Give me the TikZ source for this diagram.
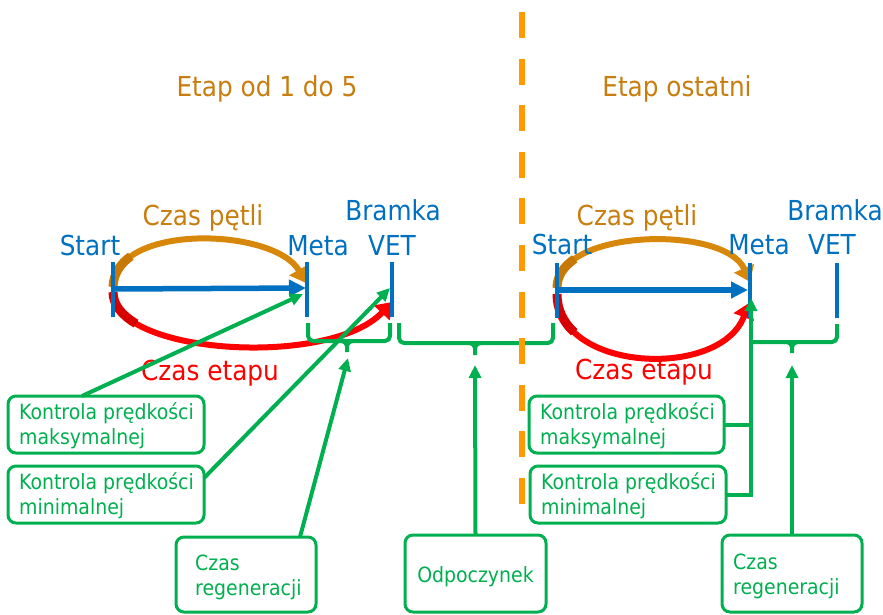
\documentclass[tikz,border=0pt]{standalone}
\usepackage{fontspec}
\setmainfont{DejaVu Sans Condensed}
\usetikzlibrary{arrows.meta}
\definecolor{cblue}{RGB}{0,112,192}
\definecolor{cgreen}{RGB}{0,176,80}
\definecolor{chead}{RGB}{200,125,15}
\definecolor{carc}{RGB}{215,135,10}
\definecolor{carcdark}{RGB}{200,120,5}
\definecolor{cdash}{RGB}{255,155,0}
\definecolor{cred}{RGB}{255,0,0}
\definecolor{creddark}{RGB}{215,0,0}
\begin{document}
\begin{tikzpicture}[x=1pt,y=-1pt,
  lbl/.style={font=\fontsize{27.5}{30}\selectfont, inner sep=0pt, anchor=base},
  box/.style={draw=cgreen, line width=3pt, rounded corners=8pt, fill=white, anchor=north west, inner sep=0pt, outer sep=0pt},
  btext/.style={text=cgreen, font=\fontsize{21}{25}\selectfont, align=left, inner sep=0pt, anchor=west},
  gline/.style={draw=cgreen, line width=4pt},
  garrow/.style={gline, -{Triangle[length=13pt,width=12pt]}},
  tickline/.style={draw=cblue, line width=4pt},
  bluearrow/.style={draw=cblue, line width=5.5pt, -{Triangle[length=17pt,width=16pt]}},
  bigarc/.style={line width=6pt, -{Triangle[length=15pt,width=21pt]}},
  arcstart/.style={line width=9pt},
  brace/.style={gline, rounded corners=5pt},
]
\useasboundingbox (0,0) rectangle (883,614);

% headings
\node[lbl, text=chead] (h1) at (267,96) {Etap od 1 do 5};
\node[lbl, text=chead] (h2) at (677,96) {Etap ostatni};

% ---- left part ----
\coordinate (startL) at (113,289);
\coordinate (metaL) at (306,288);
\coordinate (vetL) at (392,302);
\draw[carc, bigarc] (113,287) .. controls (115,222) and (275,228) .. (306,283);
\draw[carcdark, arcstart] (113,287) .. controls (113.4,274) and (120.1,263.8) .. (130.8,256.3);
\draw[cred, bigarc] (113,292) .. controls (113,355) and (330,368) .. (vetL);
\draw[creddark, arcstart] (113,292) .. controls (113,304.6) and (121.7,315.2) .. (136.1,323.6);
\draw[bluearrow] (startL) -- (metaL);
\draw[tickline] (113,262) -- (113,317);
\draw[tickline] (307,262) -- (307,317);
\draw[tickline] (392,262) -- (392,317);

\node[lbl, text=cblue] (sL) at (90,255) {Start};
\node[lbl, text=cblue] (mL) at (318,255) {Meta};
\node[lbl, text=cblue] (bL) at (393,220) {Bramka};
\node[lbl, text=cblue] (vL) at (392,255) {VET};
\node[lbl, text=chead] (cpL) at (203,225) {Czas pętli};
\node[lbl, text=cred] (ceL) at (210,380) {Czas etapu};

% ---- right part ----
\coordinate (startR) at (557,290);
\coordinate (metaR) at (748,290);
\draw[carc, bigarc] (557,288) .. controls (557,228) and (725,225) .. (750,282);
\draw[carcdark, arcstart] (557,288) .. controls (557,276) and (563.7,266.3) .. (574.7,258.9);
\draw[cred, bigarc] (557,294) .. controls (557,372) and (720,380) .. (749,303);
\draw[creddark, arcstart] (557,294) .. controls (557,309.6) and (563.5,322.4) .. (574.2,332.3);
\draw[bluearrow] (startR) -- (metaR);
\draw[tickline] (557,263) -- (557,318);
\draw[tickline] (750,263) -- (750,318);
\draw[tickline] (837,263) -- (837,318);

\node[lbl, text=cblue] (sR) at (562,254) {Start};
\node[lbl, text=cblue] (mR) at (759,254) {Meta};
\node[lbl, text=cblue] (bR) at (835,220) {Bramka};
\node[lbl, text=cblue] (vR) at (832,254) {VET};
\node[lbl, text=chead] (cpR) at (637,225) {Czas pętli};
\node[lbl, text=cred] (ceR) at (644,379) {Czas etapu};

% ---- braces ----
\draw[brace] (308,323) -- (308,341) -- (390,341) -- (390,323);
\draw[gline] (341,341) to[out=0,in=90] (347,347) -- (347,352);
\draw[gline] (353,341) to[out=180,in=90] (347,347);
\draw[brace] (399,323) -- (399,343) -- (553,343) -- (553,323);
\draw[gline] (469,343) to[out=0,in=90] (475,349) -- (475,355);
\draw[gline] (481,343) to[out=180,in=90] (475,349);
\draw[brace] (751,342) -- (837,342) -- (837,324);
\draw[gline] (786,342) to[out=0,in=90] (792,348) -- (792,353);
\draw[gline] (798,342) to[out=180,in=90] (792,348);

% dashed separator
\draw[cdash, line width=6pt, dash pattern=on 26pt off 20.6pt] (522,12) -- (522,505);

% ---- boxes ----
\node[box, minimum width=196pt, minimum height=57pt] (kmaxL) at (8,396) {};
\node[btext] (kmaxLt) at ([xshift=11pt,yshift=-1pt]kmaxL.west) {Kontrola prędkości\\maksymalnej};
\node[box, minimum width=196pt, minimum height=57pt] (kminL) at (8,466) {};
\node[btext] (kminLt) at ([xshift=11pt,yshift=-1pt]kminL.west) {Kontrola prędkości\\minimalnej};
\node[box, minimum width=140pt, minimum height=75pt] (crL) at (176,537) {};
\node[btext] (crLt) at ([xshift=19pt,yshift=-3pt]crL.west) {Czas\\regeneracji};
\node[box, minimum width=141pt, minimum height=77pt] (odp) at (405,535) {};
\node[btext, anchor=center] (odpt) at ([yshift=-3pt]odp.center) {Odpoczynek};
\node[box, minimum width=195pt, minimum height=57pt] (kmaxR) at (529,396) {};
\node[btext] (kmaxRt) at ([xshift=11pt,yshift=-1pt]kmaxR.west) {Kontrola prędkości\\maksymalnej};
\node[box, minimum width=196pt, minimum height=57pt] (kminR) at (530,466) {};
\node[btext] (kminRt) at ([xshift=11pt,yshift=-1pt]kminR.west) {Kontrola prędkości\\minimalnej};
\node[box, minimum width=140pt, minimum height=77pt] (crR) at (722,535) {};
\node[btext] (crRt) at ([xshift=11pt,yshift=-3pt]crR.west) {Czas\\regeneracji};

% ---- connectors ----
\coordinate (metaLa) at (303,294);
\coordinate (vetLa) at (390,288);
\coordinate (braceL) at (348,358);
\coordinate (braceM) at (475,365);
\coordinate (braceR) at (792,365);
\coordinate (metaRa) at (751,298);
\draw[garrow] ([xshift=74pt]kmaxL.north west) -- (metaLa);
\draw[garrow] ([yshift=16.5pt]kminL.east) -- (vetLa);
\draw[garrow] ([xshift=124pt]crL.north west) -- (braceL);
\draw[garrow] (odp.north) -- (braceM);
\draw[garrow] (crR.north) -- (braceR);
\draw[garrow] (kminR.east) -| (metaRa);
\draw[gline] (kmaxR.east) -- (kmaxR.east -| metaRa);
\end{tikzpicture}
\end{document}
